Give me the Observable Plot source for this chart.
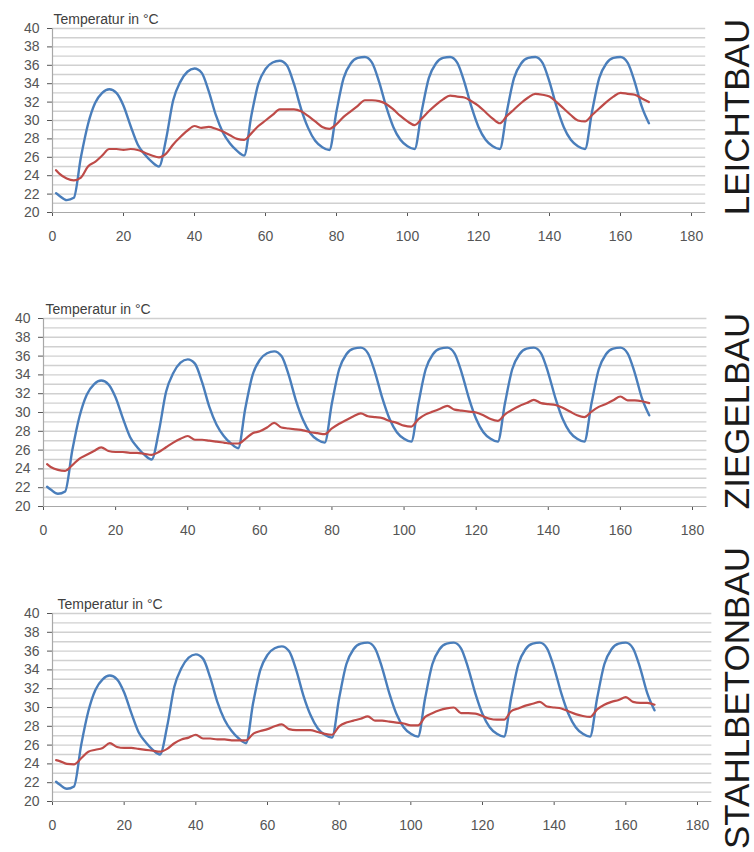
<!DOCTYPE html>
<html><head><meta charset="utf-8">
<script src="https://cdn.jsdelivr.net/npm/d3@7"></script>
<script src="https://cdn.jsdelivr.net/npm/@observablehq/plot@0.6"></script>
<style>
body{margin:0;background:#fff;}
#root{position:relative;width:754px;height:852px;overflow:hidden;background:#fff;font-family:"Liberation Sans",Arial,sans-serif;}
.panel{position:absolute;left:0;}
.side{position:absolute;transform:translate(-50%,-50%) rotate(-90deg);white-space:nowrap;font-size:35px;color:#1a1a1a;line-height:1;font-family:"Liberation Sans",Arial,sans-serif;}
</style></head><body><div id="root"></div>
<script>
// Stunden (x)
const hours = [1,2,4,6,8,10,12,14,16,18,20,22,24,26,28,30,32,34,36,38,40,42,44,46,48,50,52,54,56,58,60,62,64,66,68,70,72,74,76,78,80,82,84,86,88,90,92,94,96,98,100,102,104,106,108,110,112,114,116,118,120,122,124,126,128,130,132,134,136,138,140,142,144,146,148,150,152,154,156,158,160,162,164,166,168];
// Außentemperatur (blau)
const outdoor = [22.1,21.8,21.35,21.6,26.0,29.6,31.9,33.0,33.4,33.0,31.6,29.4,27.4,26.3,25.5,25.0,28.0,32.2,34.2,35.3,35.65,35.2,33.2,30.6,28.7,27.5,26.7,26.2,30.5,34.0,35.6,36.3,36.5,36.0,34.0,31.3,29.2,27.8,27.1,26.8,31.0,34.6,36.2,36.8,36.9,36.3,34.2,31.5,29.3,27.9,27.2,26.9,31.0,34.6,36.2,36.8,36.9,36.3,34.2,31.5,29.3,27.9,27.2,26.9,31.0,34.6,36.2,36.8,36.9,36.3,34.2,31.5,29.3,27.9,27.2,26.9,31.0,34.6,36.2,36.8,36.9,36.3,34.2,31.5,29.7];
// Innentemperatur (rot)
const leichtbau = [24.6,24.2,23.7,23.5,23.8,25.0,25.5,26.2,26.9,26.9,26.8,26.9,26.8,26.5,26.2,26.0,26.4,27.4,28.2,28.9,29.4,29.2,29.3,29.1,28.8,28.4,28.0,27.9,28.6,29.4,30.0,30.6,31.2,31.2,31.2,31.0,30.5,29.9,29.3,29.1,29.6,30.4,31.0,31.6,32.2,32.2,32.1,31.8,31.2,30.5,29.9,29.5,30.2,31.0,31.7,32.3,32.7,32.6,32.5,32.1,31.6,30.9,30.2,29.7,30.5,31.2,31.9,32.5,32.9,32.8,32.6,32.0,31.3,30.6,30.0,29.9,30.6,31.3,32.0,32.6,33.0,32.9,32.8,32.4,32.0];
const ziegelbau = [24.5,24.2,23.9,23.8,24.4,25.1,25.5,25.9,26.3,25.9,25.8,25.8,25.7,25.7,25.6,25.5,25.8,26.3,26.8,27.2,27.5,27.1,27.1,27.0,26.9,26.8,26.7,26.7,27.2,27.8,28.0,28.4,28.9,28.4,28.3,28.2,28.1,27.9,27.8,27.7,28.3,28.8,29.2,29.6,29.9,29.6,29.5,29.4,29.1,28.9,28.6,28.5,29.3,29.8,30.1,30.4,30.7,30.3,30.2,30.1,30.0,29.7,29.3,29.1,29.8,30.3,30.7,31.0,31.35,31.0,30.9,30.8,30.5,30.1,29.7,29.5,30.1,30.6,30.9,31.3,31.7,31.3,31.3,31.2,31.0];
const stahlbeton = [24.4,24.3,24.0,23.95,24.6,25.3,25.5,25.7,26.2,25.8,25.7,25.7,25.6,25.5,25.4,25.3,25.6,26.2,26.6,26.8,27.1,26.7,26.7,26.6,26.6,26.5,26.5,26.5,27.2,27.5,27.7,28.0,28.2,27.7,27.6,27.6,27.6,27.4,27.2,27.1,28.0,28.4,28.6,28.8,29.05,28.6,28.6,28.5,28.4,28.3,28.1,28.1,29.0,29.4,29.7,29.9,30.0,29.4,29.4,29.35,29.1,28.8,28.7,28.7,29.6,29.9,30.2,30.4,30.6,30.1,30.0,29.9,29.6,29.3,29.1,29.0,29.8,30.3,30.6,30.8,31.1,30.6,30.5,30.5,30.3];

const panelLabels = ["LEICHTBAU", "ZIEGELBAU", "STAHLBETONBAU"];
const axisTitle = "Temperatur in °C";
const xTicks = [0,20,40,60,80,100,120,140,160,180];
const yTicks = [20,22,24,26,28,30,32,34,36,38,40];
const gridValues = [21,22,23,24,25,26,27,28,29,30,31,32,33,34,35,36,37,38,39,40];

const series = [leichtbau, ziegelbau, stahlbeton];
const layout = [
  {top: 0,   mt: 28, ph: 184, ml: 52, xr: 691, tdx: 1, labelY: 117},
  {top: 290, mt: 28, ph: 188, ml: 43, xr: 692, tdx: 2, labelY: 411},
  {top: 585, mt: 28, ph: 188, ml: 52, xr: 697, tdx: 5, labelY: 698}
];

const root = document.getElementById("root");
layout.forEach((L, k) => {
  const chart = Plot.plot({
    width: 754,
    height: L.mt + L.ph + 42,
    marginTop: L.mt,
    marginBottom: 42,
    marginLeft: L.ml,
    marginRight: 754 - L.xr,
    x: {domain: [0, 180], ticks: xTicks, tickSize: 4, tickPadding: 15, label: null},
    y: {domain: [20, 40], ticks: yTicks, tickSize: 5, tickPadding: 8, label: null},
    style: {fontFamily: "Liberation Sans, Arial, sans-serif", fontSize: "14px", color: "#555555", background: "transparent"},
    marks: [
      Plot.ruleY(gridValues, {x1: 0, x2: 184, stroke: "#d0d0d0", strokeWidth: 1.4}),
      Plot.ruleY([20], {x1: 0, x2: 184, stroke: "#a8a8a8", strokeWidth: 1.2}),
      Plot.ruleX([0], {stroke: "#a8a8a8", strokeWidth: 1.2}),
      Plot.line(hours, {x: hours, y: outdoor, stroke: "#4a7ebb", strokeWidth: 2.4, curve: "monotone-x"}),
      Plot.line(hours, {x: hours, y: series[k], stroke: "#be4b48", strokeWidth: 2.2, curve: "monotone-x"}),
      Plot.text([axisTitle], {frameAnchor: "top-left", lineAnchor: "middle", dx: L.tdx, dy: -9, fill: "#404040", fontSize: 14})
    ]
  });
  const wrap = document.createElement("div");
  wrap.className = "panel";
  wrap.style.top = L.top + "px";
  wrap.appendChild(chart);
  root.appendChild(wrap);
  const lab = document.createElement("div");
  lab.className = "side";
  lab.style.left = "736px";
  lab.style.top = L.labelY + "px";
  lab.textContent = panelLabels[k];
  root.appendChild(lab);
});
</script>
</body></html>
